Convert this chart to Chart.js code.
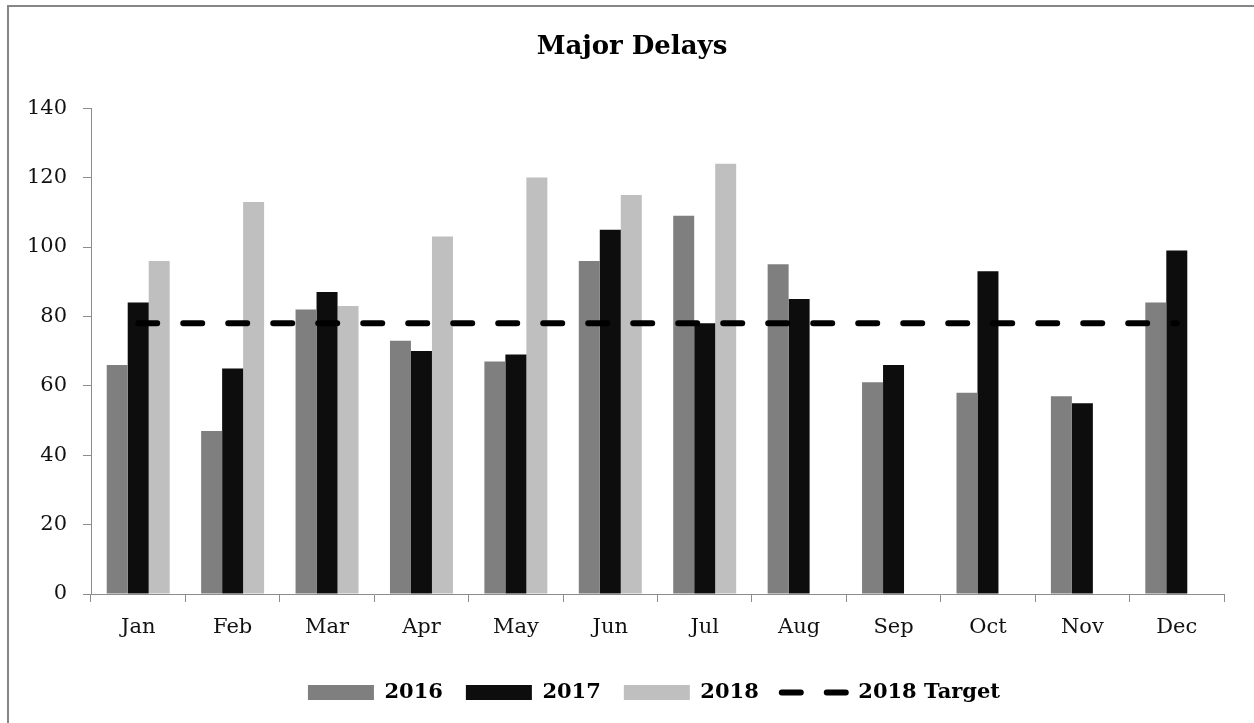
<!DOCTYPE html>
<html>
<head>
<meta charset="utf-8">
<title>Major Delays</title>
<script src="https://cdn.jsdelivr.net/npm/chart.js@4.4.1/dist/chart.umd.min.js"></script>
<style>
    html, body { margin: 0; padding: 0; background: #fff; overflow: hidden; }
    #wrap { position: relative; width: 1254px; height: 723px; overflow: hidden; }
    #frame { position: absolute; left: 7px; top: 5px; width: 1270px; height: 800px; border: 2px solid #868686; }
    #delaysChart { position: absolute; left: 0; top: 0; }
</style>
</head>
<body>
<div id="wrap">
    <div id="frame"></div>
    <canvas id="delaysChart" width="1254" height="723"></canvas>
</div>
<script>
// ================= DATA =================
const months = ['Jan', 'Feb', 'Mar', 'Apr', 'May', 'Jun', 'Jul', 'Aug', 'Sep', 'Oct', 'Nov', 'Dec'];
const delays2016 = [66, 47, 82, 73, 67, 96, 109, 95, 61, 58, 57, 84];
const delays2017 = [84, 65, 87, 70, 69, 105, 78, 85, 66, 93, 55, 99];
const delays2018 = [96, 113, 83, 103, 120, 115, 124, null, null, null, null, null];
const target2018 = [78, 78, 78, 78, 78, 78, 78, 78, 78, 78, 78, 78];
const yTicks = [0, 20, 40, 60, 80, 100, 120, 140];

const axisGrey = '#8c8c8c';
const serif = 'DejaVu Serif';

// title and legend are not centred on the same x, nudge them after layout
const blockOffset = {
    id: 'blockOffset',
    afterLayout(chart) {
        const shift = (box, dx) => {
            if (!box) return;
            box.left += dx;
            box.right += dx;
        };
        shift(chart.titleBlock, 15);
        shift(chart.legend, 37);
    }
};

new Chart(document.getElementById('delaysChart'), {
    type: 'bar',
    data: {
        labels: months,
        datasets: [
            { label: '2016', data: delays2016, backgroundColor: '#7f7f7f', borderWidth: 0, order: 1 },
            { label: '2017', data: delays2017, backgroundColor: '#0d0d0d', borderWidth: 0, order: 1 },
            { label: '2018', data: delays2018, backgroundColor: '#bfbfbf', borderWidth: 0, order: 1 },
            {
                type: 'line',
                label: '2018 Target',
                data: target2018,
                borderColor: '#000',
                backgroundColor: '#000',
                borderWidth: 6,
                borderDash: [19, 26],
                borderCapStyle: 'round',
                pointRadius: 0,
                fill: false,
                order: 0
            }
        ]
    },
    options: {
        responsive: false,
        animation: false,
        devicePixelRatio: 1,
        datasets: {
            bar: { categoryPercentage: 0.667, barPercentage: 1.0 }
        },
        layout: { padding: { left: 10, right: 30, top: 0, bottom: 10 } },
        plugins: {
            title: {
                display: true,
                text: 'Major Delays',
                color: '#000',
                font: { family: serif, size: 26, weight: 'bold' },
                padding: { top: 32, bottom: 45 }
            },
            legend: {
                position: 'bottom',
                labels: {
                    color: '#000',
                    font: { family: serif, size: 21, weight: 'bold' },
                    usePointStyle: true,
                    pointStyleWidth: 66,
                    boxHeight: 15,
                    padding: 23,
                    sort: (a, b) => a.datasetIndex - b.datasetIndex,
                    generateLabels(chart) {
                        const items = Chart.defaults.plugins.legend.labels.generateLabels(chart);
                        items.forEach(item => {
                            const ds = chart.data.datasets[item.datasetIndex];
                            if (ds.type === 'line') {
                                item.pointStyle = 'line';
                                item.lineWidth = 6;
                                item.lineDash = [19, 26];
                                item.lineCap = 'round';
                                item.strokeStyle = '#000';
                            } else {
                                item.pointStyle = 'rect';
                                item.lineWidth = 0;
                                item.fillStyle = ds.backgroundColor;
                            }
                        });
                        return items;
                    }
                }
            },
            tooltip: { enabled: false }
        },
        scales: {
            x: {
                grid: { drawOnChartArea: false, color: axisGrey, tickLength: 8, offset: true },
                border: { color: axisGrey, width: 1 },
                ticks: { color: '#111', font: { family: serif, size: 21 }, padding: 13 },
                afterFit: s => { s.height = 65; }
            },
            y: {
                min: 0,
                max: 140,
                grid: { drawOnChartArea: false, color: axisGrey, tickLength: 8 },
                border: { color: axisGrey, width: 1 },
                ticks: { color: '#111', font: { family: serif, size: 21 }, padding: 16 },
                afterBuildTicks: s => { s.ticks = yTicks.map(v => ({ value: v })); },
                afterFit: s => { s.width = 81; }
            }
        }
    },
    plugins: [blockOffset]
});
</script>
</body>
</html>
